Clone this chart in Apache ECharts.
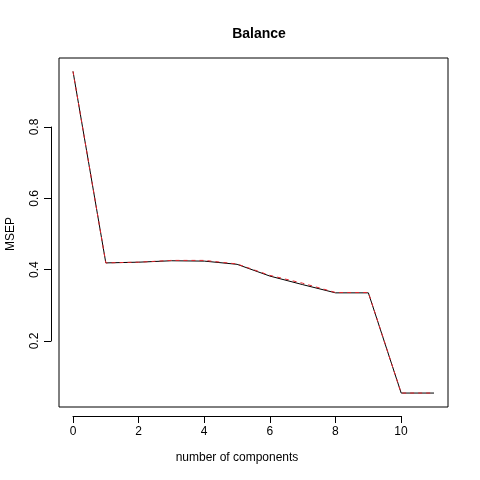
<!DOCTYPE html>
<html>
<head>
<meta charset="utf-8">
<script src="https://cdn.jsdelivr.net/npm/echarts@6/dist/echarts.min.js"></script>
<style>html,body{margin:0;padding:0;background:#fff}#main{width:480px;height:480px}</style>
</head>
<body>
<div id="main"></div>
<script>
var components = [0, 1, 2, 3, 4, 5, 6, 7, 8, 9, 10, 11];
var cvValues = [0.954, 0.417, 0.419, 0.423, 0.422, 0.413, 0.380, 0.356, 0.333, 0.333, 0.052, 0.052];
var adjCvValues = [0.954, 0.417, 0.419, 0.424, 0.424, 0.414, 0.382, 0.360, 0.334, 0.334, 0.052, 0.052];

var font = 'Liberation Sans, Arial, sans-serif';
var chart = echarts.init(document.getElementById('main'));

function pairs(vals) {
  return components.map(function (c, i) { return [c, vals[i]]; });
}
var hidden = { show: false };

chart.setOption({
  animation: false,
  title: {
    text: 'Balance', left: 254, top: 22, textAlign: 'center',
    textStyle: { fontFamily: font, fontSize: 14, fontWeight: 'bold', color: '#000' }
  },
  grid: [
    // frame box
    { left: 59, right: 32, top: 58, bottom: 73, show: true, borderColor: '#000', borderWidth: 1, backgroundColor: 'transparent' },
    // data area
    { left: 73, right: 46, top: 55, bottom: 68.4 },
    // x axis
    { left: 73, right: 79, top: 100, bottom: 64 },
    // y axis
    { left: 51, width: 100, top: 127, bottom: 139 }
  ],
  xAxis: [
    { gridIndex: 0, type: 'value', show: false },
    { gridIndex: 1, type: 'value', min: 0, max: 11, show: false },
    {
      gridIndex: 2, type: 'value', min: 0, max: 10, interval: 2, position: 'bottom',
      axisLine: { lineStyle: { color: '#000' } },
      axisTick: { length: 7, lineStyle: { color: '#000' } },
      splitLine: hidden,
      axisLabel: { color: '#000', fontFamily: font, fontSize: 12, margin: 10 },
      name: 'number of components', nameLocation: 'middle', nameGap: 36,
      nameTextStyle: { color: '#000', fontFamily: font, fontSize: 12 }
    },
    { gridIndex: 3, type: 'value', show: false }
  ],
  yAxis: [
    { gridIndex: 0, type: 'value', show: false },
    { gridIndex: 1, type: 'value', min: 0, max: 1, show: false },
    { gridIndex: 2, type: 'value', show: false },
    {
      gridIndex: 3, type: 'value', min: 0.2, max: 0.8, interval: 0.2, position: 'left',
      axisLine: { show: true, lineStyle: { color: '#000' } },
      axisTick: { show: true, length: 7, lineStyle: { color: '#000' } },
      splitLine: hidden,
      axisLabel: { color: '#000', fontFamily: font, fontSize: 12, rotate: 90, margin: 10,
        formatter: function (v) { return v.toFixed(1); } },
      name: 'MSEP', nameLocation: 'middle', nameGap: 34, nameRotate: 90,
      nameTextStyle: { color: '#000', fontFamily: font, fontSize: 12 }
    }
  ],
  series: [
    {
      type: 'line', xAxisIndex: 1, yAxisIndex: 1, data: pairs(cvValues),
      symbol: 'none', lineStyle: { color: '#000', width: 1 }
    },
    {
      type: 'line', xAxisIndex: 1, yAxisIndex: 1, data: pairs(adjCvValues),
      symbol: 'none', lineStyle: { color: '#e0242c', width: 1, type: [4, 4] }
    }
  ]
});
</script>
</body>
</html>
